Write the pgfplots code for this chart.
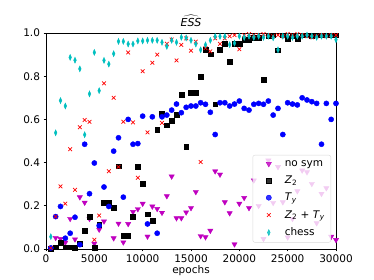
\documentclass[border=0pt]{standalone}
\usepackage{fontspec}
\setmainfont{DejaVu Sans}
\usepackage{pgfplots}
\usepackage{pgfplotstable}
\pgfplotsset{compat=1.18}
\definecolor{mplm}{rgb}{0.75,0,0.75}
\definecolor{mplc}{rgb}{0,0.75,0.75}
\pgfplotsset{mylegend/.style={legend image code/.code={%
  \path[draw=none,fill=none] (0pt,0pt) -- (26pt,0pt);
  \draw[##1] plot coordinates {(13pt,0pt)};}}}
\pgfplotstableread{
x ns z2 ty zt ch
500 0.005 0.003 0.005 0.005 0.057
1000 0.052 0.008 0.15 0.15 0.538
1500 0.047 0.028 0.197 0.29 0.687
2000 0.03 0.008 0.05 0.21 0.662
2500 0.14 0.008 0.073 0.462 0.887
3000 0.045 0.005 0.147 0.274 0.874
3500 0.24 0.023 0.02 0.564 0.834
4000 0.215 0.085 0.485 0.597 0.529
4500 0.14 0.15 0.256 0.589 0.718
5000 0.025 0.005 0.398 0.043 0.91
5500 0.09 0.113 0.108 0.155 0.733
6000 0.128 0.215 0.287 0.767 0.873
6500 0.2 0.215 0.197 0.36 0.856
7000 0.05 0.192 0.453 0.70 0.904
7500 0.118 0.383 0.515 0.38 0.961
8000 0.031 0.062 0.24 0.589 0.961
8500 0.116 0.062 0.6 0.91 0.949
9000 0.172 0.15 0.485 0.586 0.949
9500 0.185 0.38 0.488 0.33 0.963
10000 0.21 0.302 0.615 0.823 0.963
10500 0.058 0.161 0.116 0.54 0.966
11000 0.197 0.13 0.612 0.862 0.966
11500 0.186 0.553 0.073 0.90 0.966
12000 0.168 0.628 0.612 0.584 0.957
12500 0.245 0.573 0.62 0.95 0.938
13000 0.336 0.593 0.643 0.97 0.966
13500 0.143 0.62 0.671 0.873 0.957
14000 0.143 0.716 0.631 0.945 0.98
14500 0.17 0.473 0.656 0.975 0.977
15000 0.19 0.724 0.662 0.918 0.966
15500 0.264 0.724 0.662 0.96 0.949
16000 0.06 0.798 0.677 0.403 0.922
16500 0.055 0.923 0.67 0.93 0.945
17000 0.085 0.902 0.633 0.915 0.966
17500 0.36 0.67 0.53 0.975 0.984
18000 0.345 0.922 0.677 0.95 0.984
18500 0.217 0.949 0.677 0.975 0.984
19000 0.166 0.868 0.662 0.985 0.946
19500 0.022 0.95 0.671 0.99 0.953
20000 0.21 0.952 0.685 0.925 0.985
20500 0.237 0.97 0.651 0.99 0.98
21000 0.19 0.97 0.643 0.995 0.985
21500 0.318 0.98 0.67 0.99 0.98
22000 0.2 0.98 0.674 0.99 0.985
22500 0.047 0.783 0.67 0.995 0.98
23000 0.41 0.985 0.685 0.99 0.985
23500 0.214 0.99 0.62 0.985 0.978
24000 0.38 0.92 0.651 0.99 0.922
24500 0.217 0.99 0.53 0.985 0.985
25000 0.054 0.975 0.677 0.995 0.985
25500 0.14 0.985 0.671 0.99 0.98
26000 0.268 0.975 0.667 0.995 0.985
26500 0.364 0.99 0.70 0.99 0.985
27000 0.356 0.99 0.69 0.985 0.99
27500 0.302 0.985 0.682 0.98 0.985
28000 0.12 0.99 0.674 0.985 0.98
28500 0.256 0.99 0.485 0.99 0.985
29000 0.282 0.99 0.674 0.985 0.985
29500 0.057 0.99 0.60 0.99 0.985
30000 0.042 0.99 0.674 0.99 0.969
}\datatable
\begin{document}
\begin{tikzpicture}[x=1pt,y=1pt]
\path[use as bounding box] (-46pt,-31pt) rectangle (328pt,249pt);
\begin{axis}[
  scale only axis, width=290pt, height=216pt,
  xmin=0, xmax=30000, ymin=0, ymax=1,
  xtick={0,5000,...,30000}, ytick={0,0.2,...,1.0},
  scaled x ticks=false,
  xticklabel style={/pgf/number format/.cd, fixed, 1000 sep={}},
  yticklabel style={/pgf/number format/.cd, fixed, fixed zerofill, precision=1},
  /pgf/number format/assume math mode=true,
  tick align=outside, xtick pos=left, ytick pos=left,
  major tick length=2.5pt,
  tick style={black, line width=0.6pt},
  axis line style={line width=0.6pt},
  ticklabel style={font=\fontsize{10.5}{12}\selectfont},
  xlabel={epochs}, xlabel style={font=\fontsize{10.5}{12}\selectfont, yshift=4pt},
  title={$\widehat{\hbox{\itshape ESS}}$}, title style={font=\fontsize{11}{13}\selectfont, yshift=-3pt},
  legend style={at={(rel axis cs:0.983,0.03)}, anchor=south east,
    fill=white, fill opacity=0.8, text opacity=1, draw=black!15, rounded corners=2pt,
    font=\fontsize{10.5}{12}\selectfont, row sep=4.2pt, inner sep=3pt,
    nodes={inner xsep=3pt}},
  legend cell align=left,
]
\addplot[only marks, mylegend, mark=triangle*, mark size=3pt, color=mplm, mark options={rotate=180}] table[x=x,y=ns]{\datatable};
\addlegendentry{no sym}
\addplot[only marks, mylegend, mark=square*, mark size=2.4pt, color=black] table[x=x,y=z2]{\datatable};
\addlegendentry{\textit{Z}\textsubscript{2}}
\addplot[only marks, mylegend, mark=*, mark size=2.6pt, color=blue] table[x=x,y=ty]{\datatable};
\addlegendentry{\textit{T}\textsubscript{\textit{y}}}
\addplot[only marks, mylegend, mark=x, mark size=2.6pt, color=red, mark options={line width=0.7pt}] table[x=x,y=zt]{\datatable};
\addlegendentry{\textit{Z}\textsubscript{2} + \textit{T}\textsubscript{\textit{y}}}
\addplot[only marks, mylegend, mark=diamond*, mark size=3pt, color=mplc, mark options={xscale=0.6}] table[x=x,y=ch]{\datatable};
\addlegendentry{chess}
\end{axis}
\end{tikzpicture}
\end{document}
